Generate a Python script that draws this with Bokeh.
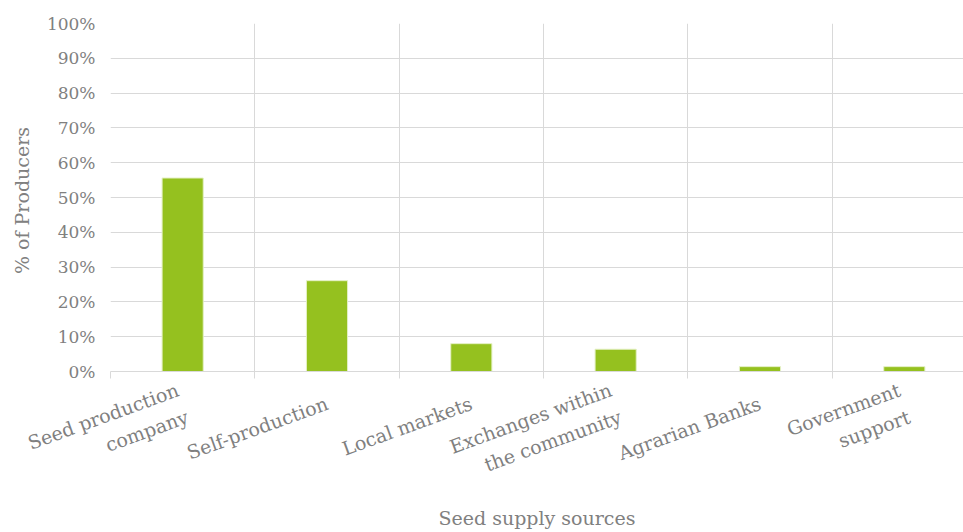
import numpy as np
from bokeh.plotting import figure
from bokeh.models import Range1d, FixedTicker, ColumnDataSource
from bokeh.embed import file_html
from bokeh.resources import INLINE

categories = ["Seed production\ncompany", "Self-production", "Local markets",
              "Exchanges within\nthe community", "Agrarian Banks", "Government\nsupport"]
values = [55.6, 26.1, 8.0, 6.4, 1.4, 1.4]
y_ticks = [0, 10, 20, 30, 40, 50, 60, 70, 80, 90, 100]

FONT = "DejaVu Serif"
TXT = "#808080"
GRID = "#d9d9d9"
BAR = "#95c11f"

x_pos = [i + 0.5 for i in range(len(categories))]
src = ColumnDataSource(dict(x=x_pos, top=values))

p = figure(width=963, height=532, output_backend="svg", toolbar_location=None,
           x_range=Range1d(0, 5.91), y_range=Range1d(0, 100),
           min_border_left=110, min_border_right=0, min_border_top=23, min_border_bottom=0)
p.outline_line_color = None
p.background_fill_color = "white"
p.border_fill_color = "white"

p.vbar(x="x", top="top", width=0.285, source=src, fill_color=BAR,
       line_color="#e4f0c4", line_width=1)

# x axis
p.xaxis.ticker = FixedTicker(ticks=x_pos, minor_ticks=list(range(len(categories) + 1)))
p.xaxis.major_label_overrides = {x: c for x, c in zip(x_pos, categories)}
p.xaxis.major_label_orientation = np.deg2rad(20)
p.xaxis.major_tick_line_color = None
p.xaxis.minor_tick_line_color = GRID
p.xaxis.minor_tick_out = 7
p.xaxis.minor_tick_in = 0
p.xaxis.axis_line_color = GRID
p.xaxis.major_label_text_font = FONT
p.xaxis.major_label_text_font_size = "19px"
p.xaxis.major_label_text_line_height = 1.3
p.xaxis.major_label_text_color = TXT
p.xaxis.major_label_standoff = 24
p.xaxis.axis_label = "Seed supply sources"
p.xaxis.axis_label_text_font = FONT
p.xaxis.axis_label_text_font_size = "19px"
p.xaxis.axis_label_text_font_style = "normal"
p.xaxis.axis_label_text_color = TXT
p.xaxis.axis_label_standoff = -4

# y axis
p.yaxis.ticker = FixedTicker(ticks=y_ticks)
p.yaxis.major_label_overrides = {t: f"{t}%" for t in y_ticks}
p.yaxis.axis_line_color = None
p.yaxis.major_tick_line_color = None
p.yaxis.minor_tick_line_color = None
p.yaxis.major_label_text_font = FONT
p.yaxis.major_label_text_font_size = "17px"
p.yaxis.major_label_text_color = TXT
p.yaxis.major_label_standoff = 9
p.yaxis.axis_label = "%  of Producers"
p.yaxis.axis_label_text_font = FONT
p.yaxis.axis_label_text_font_size = "19px"
p.yaxis.axis_label_text_font_style = "normal"
p.yaxis.axis_label_text_color = TXT
p.yaxis.axis_label_standoff = 11

# grids
p.xgrid.ticker = FixedTicker(ticks=list(range(len(categories) + 1)))
p.xgrid.grid_line_color = GRID
p.ygrid.grid_line_color = GRID

open("out.html", "w").write(file_html(p, INLINE))
